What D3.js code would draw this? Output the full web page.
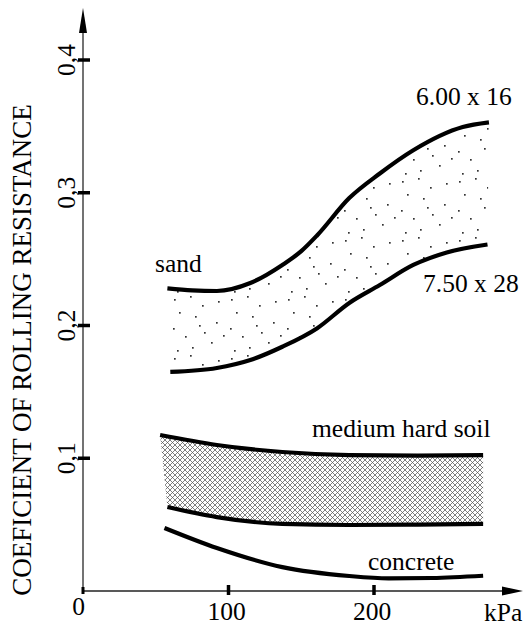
<!DOCTYPE html>
<html>
<head>
<meta charset="utf-8">
<script src="https://cdn.jsdelivr.net/npm/d3@7"></script>
<style>
  body { margin: 0; background: #fff; }
  svg text { font-family: 'Liberation Serif', 'Times New Roman', 'DejaVu Serif', serif; }
</style>
</head>
<body>
<svg id="chart"></svg>
<script>
// values (x in kPa, y = coefficient)
const sandUpperKpa = [58, 75, 92, 115, 137, 150, 161, 183, 204, 227, 261, 279];
const sandUpper    = [0.228, 0.2265, 0.226, 0.232, 0.2456, 0.256, 0.268, 0.296, 0.3145, 0.332, 0.3495, 0.353];
const sandLowerKpa = [60, 92, 115, 137, 161, 183, 204, 227, 250, 278];
const sandLower    = [0.165, 0.168, 0.174, 0.184, 0.198, 0.217, 0.2305, 0.2456, 0.255, 0.261];
const soilUpperKpa = [53, 92, 137, 183, 230, 275];
const soilUpper    = [0.1175, 0.110, 0.1047, 0.1024, 0.102, 0.1024];
const soilLowerKpa = [58, 92, 137, 183, 230, 275];
const soilLower    = [0.0633, 0.0557, 0.0505, 0.0497, 0.050, 0.0505];
const concreteKpa  = [56, 92, 137, 183, 210, 240, 275];
const concrete     = [0.0475, 0.0324, 0.018, 0.0113, 0.0095, 0.0098, 0.0115];

const xTicks = [100, 200];
const yTicks = [0.1, 0.2, 0.3, 0.4];
const yTickLabels = ["0,1", "0,2", "0,3", "0,4"];

const width = 530, height = 628;
const svg = d3.select("#chart").attr("width", width).attr("height", height);

const x = d3.scaleLinear().domain([0, 200]).range([83, 374]);
const y = d3.scaleLinear().domain([0, 0.4]).range([591, 60]);

const pts = (ks, vs) => ks.map((k, i) => [k, vs[i]]);
const line = d3.line().x(d => x(d[0])).y(d => y(d[1])).curve(d3.curveMonotoneX);
// band = upper line forward, then lower line backwards
const band = (up, lo) => {
  const a = line(up);
  const b = line(lo.slice().reverse()).replace(/^M/, "L");
  return a + b + "Z";
};

// fill patterns
const defs = svg.append("defs");
const hatch = defs.append("pattern").attr("id", "hatch")
  .attr("patternUnits", "userSpaceOnUse").attr("width", 5).attr("height", 5);
hatch.append("path").attr("d", "M0,0L5,5M5,0L0,5M-1,4L1,6M4,-1L6,1")
  .attr("stroke", "#555").attr("stroke-width", 0.75);

// stipple texture for sand (fixed tile, hand placed)
const dotTile = [[3, 4], [19, 1], [31, 10], [8, 17], [24, 21], [45, 27], [2, 33], [14, 41],
                 [33, 37], [47, 6], [40, 47], [21, 52], [6, 55], [52, 40], [28, 30]];
const stip = defs.append("pattern").attr("id", "stipple")
  .attr("patternUnits", "userSpaceOnUse").attr("width", 57).attr("height", 59);
stip.selectAll("rect").data(dotTile).enter().append("rect")
  .attr("x", d => d[0]).attr("y", d => d[1]).attr("width", 1.7).attr("height", 1.7)
  .attr("fill", "#333");

const sU = pts(sandUpperKpa, sandUpper), sL = pts(sandLowerKpa, sandLower);
const mU = pts(soilUpperKpa, soilUpper), mL = pts(soilLowerKpa, soilLower);

svg.append("path").attr("d", band(sU, sL)).attr("fill", "url(#stipple)");
svg.append("path").attr("d", band(mU, mL)).attr("fill", "url(#hatch)");

// curves
[sU, sL, mU, mL, pts(concreteKpa, concrete)].forEach(p => {
  svg.append("path").attr("d", line(p))
    .attr("fill", "none").attr("stroke", "#000").attr("stroke-width", 4.2);
});

// axes
const ax = svg.append("g");
ax.append("line").attr("x1", x(0)).attr("x2", 510).attr("y1", y(0)).attr("y2", y(0))
  .attr("stroke", "#222").attr("stroke-width", 1.5);
ax.append("path").attr("d", `M523,${y(0)}L502,${y(0) - 4.5}L502,${y(0) + 4.5}Z`).attr("fill", "#000");
ax.append("line").attr("x1", x(0)).attr("x2", x(0)).attr("y1", y(0)).attr("y2", 22)
  .attr("stroke", "#444").attr("stroke-width", 1.5);
ax.append("path").attr("d", `M${x(0)},8L${x(0) - 4},33L${x(0) + 4},33Z`).attr("fill", "#000");

// origin tick
ax.append("line").attr("x1", x(0)).attr("x2", x(0)).attr("y1", y(0) - 4).attr("y2", y(0) + 3)
  .attr("stroke", "#000").attr("stroke-width", 3);

ax.selectAll(".xt").data(xTicks).enter().append("line")
  .attr("x1", d => x(d)).attr("x2", d => x(d))
  .attr("y1", y(0) - 6).attr("y2", y(0) + 4)
  .attr("stroke", "#000").attr("stroke-width", 3.5);
ax.selectAll(".xl").data(xTicks).enter().append("text")
  .attr("x", d => x(d) - 2).attr("y", 620)
  .attr("text-anchor", "middle").attr("font-size", 25.5)
  .text(d => d);

ax.selectAll(".yt").data(yTicks).enter().append("line")
  .attr("x1", x(0) - 5).attr("x2", x(0) + 7)
  .attr("y1", d => y(d)).attr("y2", d => y(d))
  .attr("stroke", "#000").attr("stroke-width", 3.5);
ax.selectAll(".yl").data(yTicks).enter().append("text")
  .attr("transform", d => `translate(75,${y(d)}) rotate(-90)`)
  .attr("text-anchor", "middle").attr("font-size", 25.5)
  .text((d, i) => yTickLabels[i]);

svg.append("text").attr("x", 78.5).attr("y", 615).attr("text-anchor", "middle")
  .attr("font-size", 25.5).text("0");
svg.append("text").attr("x", 484).attr("y", 621).attr("font-size", 25.5).text("kPa");

svg.append("text").attr("transform", "translate(31,350) rotate(-90)")
  .attr("text-anchor", "middle").attr("font-size", 27)
  .text("COEFICIENT OF ROLLING RESISTANCE");

// labels
const labels = [
  {t: "sand", x: 155, y: 272},
  {t: "6.00 x 16", x: 416, y: 105},
  {t: "7.50 x 28", x: 423, y: 292},
  {t: "medium hard soil", x: 312, y: 437},
  {t: "concrete", x: 368, y: 570}
];
svg.selectAll(".lab").data(labels).enter().append("text")
  .attr("x", d => d.x).attr("y", d => d.y).attr("font-size", 25.5)
  .text(d => d.t);
</script>
</body>
</html>
